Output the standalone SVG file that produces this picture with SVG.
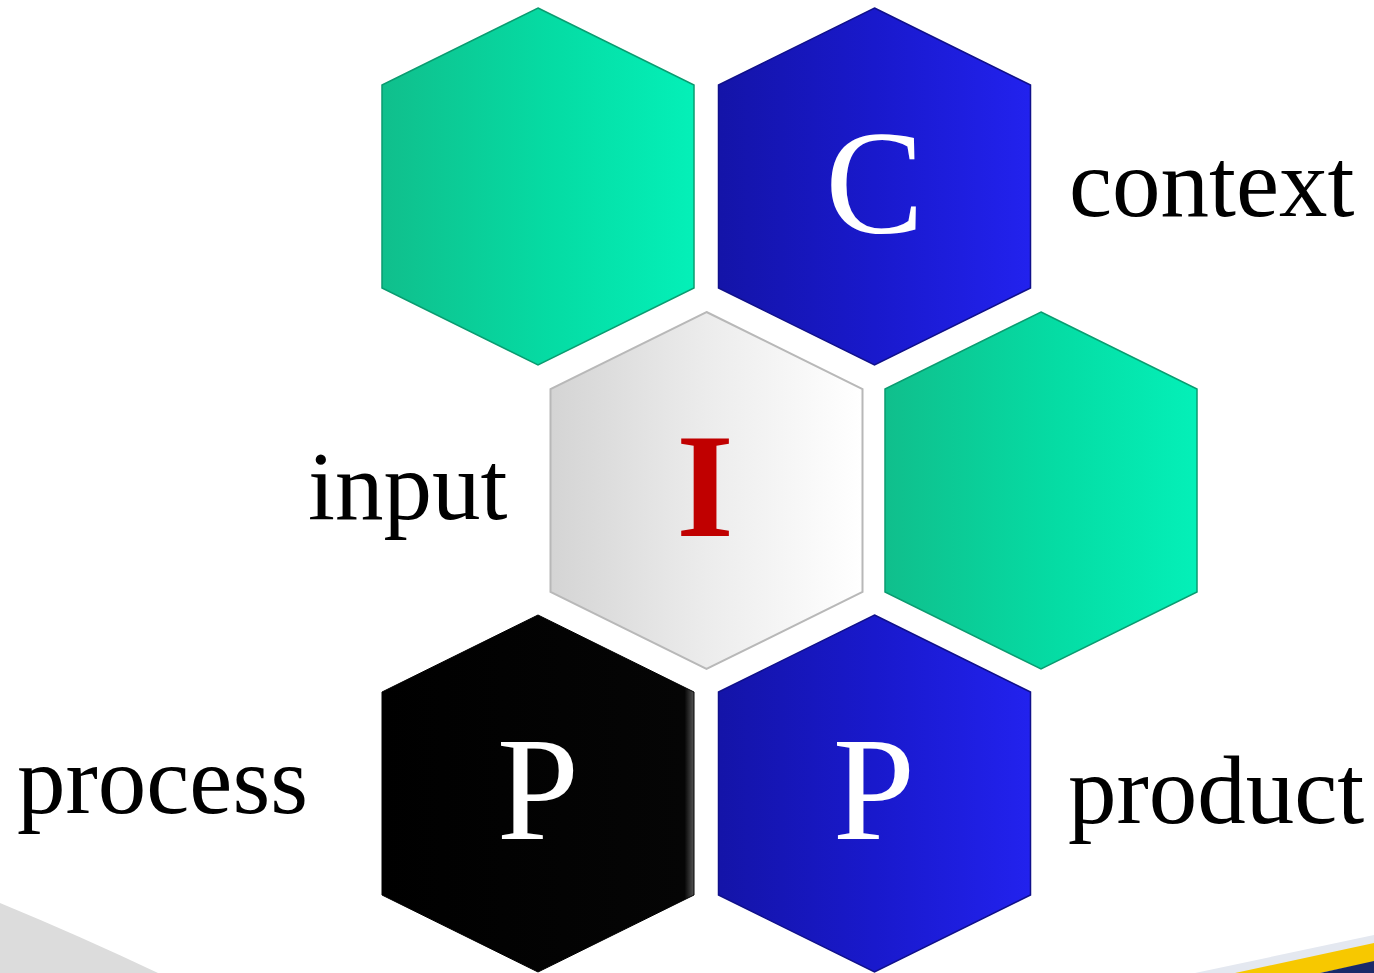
<svg xmlns="http://www.w3.org/2000/svg" width="1374" height="973" viewBox="0 0 1374 973">
  <defs>
    <linearGradient id="gGreen" x1="0" y1="0" x2="1" y2="0">
      <stop offset="0" stop-color="#10bf8c"/>
      <stop offset="0.55" stop-color="#05dca4"/>
      <stop offset="1" stop-color="#04f0b8"/>
    </linearGradient>
    <linearGradient id="gBlue" x1="0" y1="0" x2="1" y2="0">
      <stop offset="0" stop-color="#1414a8"/>
      <stop offset="0.5" stop-color="#1919cc"/>
      <stop offset="1" stop-color="#2222ee"/>
    </linearGradient>
    <linearGradient id="gGray" x1="0" y1="0" x2="1" y2="0">
      <stop offset="0" stop-color="#d4d4d4"/>
      <stop offset="0.5" stop-color="#ececec"/>
      <stop offset="1" stop-color="#ffffff"/>
    </linearGradient>
    <linearGradient id="gBlack" x1="0" y1="0" x2="1" y2="0">
      <stop offset="0" stop-color="#000000"/>
      <stop offset="0.97" stop-color="#050505"/>
      <stop offset="1" stop-color="#555555"/>
    </linearGradient>
    <polygon id="hex" points="0,0 156,77 156,280 0,357 -156,280 -156,77"/>
  </defs>
  <style>
    .lbl { font-family: "Liberation Serif", "Times New Roman", serif; font-size: 97px; fill: #000; }
    .big { font-family: "Liberation Serif", "Times New Roman", serif; font-size: 148px; text-anchor: middle; }
    .green { fill: url(#gGreen); stroke: #0a9c70; stroke-width: 1.5; }
    .blue { fill: url(#gBlue); stroke: #10108a; stroke-width: 1.5; }
    .gray { fill: url(#gGray); stroke: #b8b8b8; stroke-width: 2; }
    .black { fill: url(#gBlack); stroke: #000; stroke-width: 1; }
  </style>
  <rect width="1374" height="973" fill="#ffffff"/>
  <g id="background">
    <path d="M0,903 Q80,936 158,973 L0,973 Z" fill="#dcdcdc"/>
    <path d="M1195,973 L1374,935 L1374,945 L1240,973 Z" fill="#e4e8f0"/>
    <path d="M1235,973 L1374,943 L1374,962 L1320,973 Z" fill="#f7c800"/>
    <path d="M1320,973 L1374,961 L1374,973 Z" fill="#1a2a6a"/>
  </g>
  <g id="connectors"/>
  <g id="node-green-top">
    <use href="#hex" x="538" y="8" class="green"/>
  </g>
  <g id="node-context">
    <use href="#hex" x="874.5" y="8" class="blue"/>
    <text x="874.5" y="233" class="big" fill="#ffffff">C</text>
  </g>
  <g id="node-input">
    <use href="#hex" x="706.5" y="312" class="gray"/>
    <text x="705" y="536" class="big" font-weight="bold" fill="#c00000">I</text>
  </g>
  <g id="node-green-mid">
    <use href="#hex" x="1041" y="312" class="green"/>
  </g>
  <g id="node-process">
    <use href="#hex" x="538" y="615" class="black"/>
    <text x="538" y="839" class="big" fill="#ffffff">P</text>
  </g>
  <g id="node-product">
    <use href="#hex" x="874.5" y="615" class="blue"/>
    <text x="874" y="839" class="big" fill="#ffffff">P</text>
  </g>
  <g id="labels">
    <text x="1069" y="216" class="lbl">context</text>
    <text x="308" y="519" class="lbl">input</text>
    <text x="17" y="813" class="lbl">process</text>
    <text x="1068" y="823" class="lbl">product</text>
  </g>
</svg>
